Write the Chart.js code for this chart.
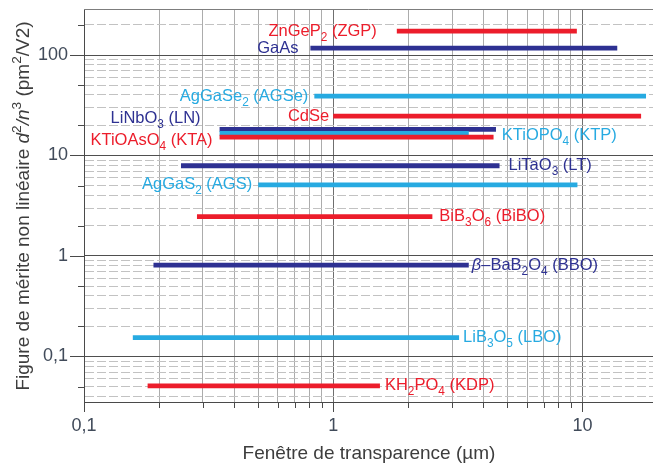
<!DOCTYPE html>
<html lang="fr">
<head>
<meta charset="utf-8">
<title>Figure de mérite non linéaire</title>
<script src="https://cdn.jsdelivr.net/npm/chart.js@4.4.1/dist/chart.umd.min.js"></script>
<style>
  html, body { margin: 0; padding: 0; background: #fff; }
  #wrap { width: 653px; height: 466px; }
</style>
</head>
<body>
<div id="wrap"><canvas id="nlo" width="653" height="466"></canvas></div>
<script>
// ---- data: crystals, figure of merit d2/n3 (pm2/V2) and transparency window (µm)
// "_n" = subscript digit, "^n" = superscript digit, "*..*" = italic
const crystals  = ['ZnGeP_2 (ZGP)', 'GaAs', 'AgGaSe_2 (AGSe)', 'CdSe', 'LiNbO_3 (LN)', 'KTiOPO_4 (KTP)',
                   'KTiOAsO_4 (KTA)', 'LiTaO_3 (LT)', 'AgGaS_2 (AGS)', 'BiB_3O_6 (BiBO)', '*β*–BaB_2O_4 (BBO)',
                   'LiB_3O_5 (LBO)', 'KH_2PO_4 (KDP)'];
const merit     = [173, 117, 39, 24.7, 18.2, 16.6, 15.2, 7.9, 5.1, 2.46, 0.81, 0.154, 0.051];
const windowMin = [1.8, 0.81, 0.84, 1.0, 0.35, 0.35, 0.35, 0.245, 0.5, 0.284, 0.19, 0.157, 0.18];
const windowMax = [9.5, 13.8, 18, 17.2, 4.5, 3.5, 4.4, 4.65, 9.55, 2.5, 3.5, 3.2, 1.54];

const xMajors      = [0.1, 1, 10];
const xMajorLabels = ['0,1', '1', '10'];
const yMajors      = [0.1, 1, 10, 100];
const yMajorLabels = ['0,1', '1', '10', '100'];
const xTitle = 'Fenêtre de transparence (µm)';
const yTitle = 'Figure de mérite non linéaire *d*^2*/n*^3 (pm^2/V2)';

// ---- styles
const RED = '#ec1d2b', NAVY = '#2e3192', CYAN = '#27aae1';
const barColours = [RED, NAVY, CYAN, RED, NAVY, CYAN, RED, NAVY, CYAN, RED, NAVY, CYAN, RED];
// where each name sits relative to its bar: side, gap (px), vertical nudge (px)
const labelPlace = [
  ['left', 20, 0], ['left', 12, 0], ['left', 6, 0], ['left', 4, 0], ['left', 19, -11], ['right', 33, 2],
  ['left', 7, 3], ['right', 9, 0], ['left', 6, 0], ['right', 7, 0], ['right', 3, 0], ['right', 4, 0], ['right', 5, 0]
];
const FONT = 'Liberation Sans, Arial, sans-serif';
const X_MIN = 0.1, X_MAX = 19.2, Y_MIN = 0.0352, Y_MAX = 287;

const isMajor = v => Math.abs(Math.log10(v) - Math.round(Math.log10(v))) < 1e-6;
const steps = [1, 2, 3, 4, 5, 6, 7, 8, 9];
function gridValues(decades, lo, hi) {
  const out = [];
  decades.forEach(d => steps.forEach(s => {
    const v = +(d * s).toPrecision(3);
    if (v >= lo && v <= hi) out.push(v);
  }));
  return out;
}
const xGrid = gridValues([0.1, 1, 10], X_MIN, X_MAX);
const yGrid = gridValues([0.01, 0.1, 1, 10, 100], Y_MIN, Y_MAX);
const near = (a, b) => Math.abs(a / b - 1) < 1e-6;
const labelFor = (v, majors, labels) => {
  const i = majors.findIndex(m => near(m, v));
  return i < 0 ? '' : labels[i];
};

// ---- rich text (sub/superscripts, italics) on canvas
function splitRich(text) {
  const parts = [];
  text.replace(/_(\d)|\^(\d)|\*([^*]+)\*|([^_^*]+)/g, (m, sub, sup, it, plain) => {
    if (sub) parts.push({ t: sub, shift: 1 });
    else if (sup) parts.push({ t: sup, shift: -1 });
    else if (it) parts.push({ t: it, italic: true });
    else parts.push({ t: plain });
  });
  return parts;
}
function drawRich(ctx, text, x, y, align, size, colour) {
  const parts = splitRich(text);
  const fontFor = p => `${p.italic ? 'italic ' : ''}${p.shift ? size * 0.72 : size}px ${FONT}`;
  let w = 0;
  parts.forEach(p => { ctx.font = fontFor(p); p.w = ctx.measureText(p.t).width; w += p.w; });
  let cx = align === 'right' ? x - w : align === 'center' ? x - w / 2 : x;
  ctx.fillStyle = colour;
  ctx.textBaseline = 'middle';
  ctx.textAlign = 'left';
  parts.forEach(p => {
    ctx.font = fontFor(p);
    ctx.fillText(p.t, cx, y + (p.shift || 0) * size * 0.38);
    cx += p.w;
  });
}

// frame top, tick marks, bar names and axis titles
const decorations = {
  id: 'decorations',
  afterDraw(chart) {
    const { ctx, chartArea: a, scales: { x, y } } = chart;
    ctx.save();
    ctx.lineWidth = 1;
    ctx.strokeStyle = '#7d7d7d';
    ctx.beginPath();
    ctx.moveTo(a.left, a.top + 0.5);
    ctx.lineTo(a.right, a.top + 0.5);
    ctx.stroke();

    ctx.strokeStyle = '#4a4a4a';
    ctx.beginPath();
    xGrid.forEach(v => {
      const px = Math.round(x.getPixelForValue(v)) + 0.5;
      ctx.moveTo(px, a.bottom);
      ctx.lineTo(px, a.bottom + (isMajor(v) ? 10 : 6));
    });
    yGrid.forEach(v => {
      const s = Math.round(v / Math.pow(10, Math.floor(Math.log10(v) + 1e-9)));
      if (!isMajor(v) && s !== 2 && s !== 5) return;
      const py = Math.round(y.getPixelForValue(v)) + 0.5;
      ctx.moveTo(a.left - (isMajor(v) ? 14 : 6), py);
      ctx.lineTo(a.left, py);
    });
    ctx.stroke();

    crystals.forEach((name, i) => {
      const [side, gap, dy] = labelPlace[i];
      const py = y.getPixelForValue(merit[i]) + dy;
      if (side === 'left') {
        drawRich(ctx, name, x.getPixelForValue(windowMin[i]) - gap, py, 'right', 16.5, barColours[i]);
      } else {
        drawRich(ctx, name, x.getPixelForValue(windowMax[i]) + gap, py, 'left', 16.5, barColours[i]);
      }
    });

    drawRich(ctx, xTitle, (a.left + a.right) / 2 + 0.5, 454, 'center', 19, '#3d3d3d');
    ctx.translate(24, 206);
    ctx.rotate(-Math.PI / 2);
    drawRich(ctx, yTitle, 0, 0, 'center', 19, '#3d3d3d');
    ctx.restore();
  }
};

const datasets = crystals.map((name, i) => ({
  label: name,
  data: [{ x: windowMin[i], y: merit[i] }, { x: windowMax[i], y: merit[i] }],
  borderColor: barColours[i],
  backgroundColor: barColours[i],
  borderWidth: 4.8,
  borderCapStyle: 'butt',
  pointRadius: 0,
  fill: false,
  order: -i
}));

new Chart(document.getElementById('nlo'), {
  type: 'line',
  data: { datasets },
  options: {
    responsive: false,
    devicePixelRatio: 1,
    animation: false,
    layout: { padding: { top: 9, right: 0, bottom: 0, left: 0 } },
    plugins: { legend: { display: false }, tooltip: { enabled: false } },
    scales: {
      x: {
        type: 'logarithmic',
        min: X_MIN, max: X_MAX,
        afterBuildTicks: s => { s.ticks = xGrid.map(v => ({ value: v, major: isMajor(v) })); },
        afterFit: s => { s.height = 64; s.paddingLeft = 0; s.paddingRight = 0; },
        ticks: {
          autoSkip: false, maxRotation: 0, padding: 13,
          color: '#414b5a', font: { family: FONT, size: 18 },
          callback: v => labelFor(v, xMajors, xMajorLabels)
        },
        grid: {
          drawTicks: false,
          color: c => c.tick && isMajor(c.tick.value) ? (near(c.tick.value, X_MIN) ? '#4a4a4a' : '#6f6f6f') : '#acacac'
        },
        border: { display: true, color: '#4a4a4a', width: 1 }
      },
      y: {
        type: 'logarithmic',
        min: Y_MIN, max: Y_MAX,
        afterBuildTicks: s => { s.ticks = yGrid.map(v => ({ value: v, major: isMajor(v) })); },
        afterFit: s => { s.width = 84; s.paddingTop = 0; s.paddingBottom = 0; },
        ticks: {
          autoSkip: false, padding: 16,
          color: '#414b5a', font: { family: FONT, size: 18 },
          callback: v => labelFor(v, yMajors, yMajorLabels)
        },
        grid: {
          drawTicks: false,
          color: c => c.tick && isMajor(c.tick.value) ? '#4f4f4f' : '#c2c2c2'
        },
        border: {
          display: true, color: '#4a4a4a', width: 1,
          dash: c => c.tick && !isMajor(c.tick.value) ? [9, 3] : []
        }
      }
    }
  },
  plugins: [decorations]
});
</script>
</body>
</html>
